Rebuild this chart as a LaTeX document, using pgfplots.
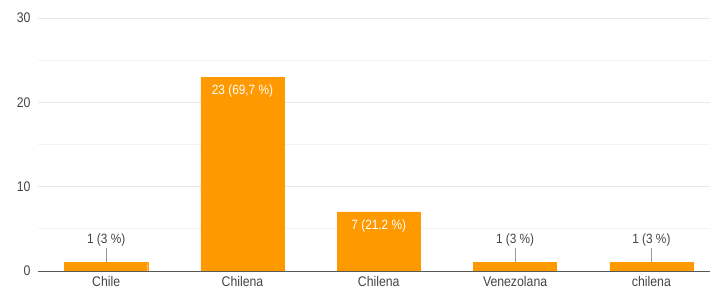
\documentclass[border=0pt]{standalone}
\usepackage{pgfplots}
\pgfplotsset{compat=1.18}
\usepackage{fontspec}
\setmainfont{Liberation Sans}[FakeStretch=0.88]
\definecolor{barc}{HTML}{FF9900}
\definecolor{txt}{HTML}{444444}
\definecolor{gridc}{HTML}{E8E8E8}
\definecolor{mgridc}{HTML}{F3F3F3}
\begin{document}
\begin{tikzpicture}[x=1bp,y=1bp]
\begin{axis}[
  at={(0,0)}, anchor=south west,
  scale only axis, width=672bp, height=253bp,
  xmin=-0.5, xmax=4.43, ymin=0, ymax=30,
  axis line style={draw=none},
  xtick={0,1,2,3,4},
  xticklabels={Chile,Chilena,Chilena,Venezolana,chilena},
  ytick={0,10,20,30}, minor ytick={5,15,25},
  ymajorgrids, yminorgrids,
  major grid style={gridc, line width=0.8bp},
  minor grid style={mgridc, line width=0.8bp},
  major tick length=0pt, minor tick length=0pt,
  tick style={draw=none},
  /pgf/number format/assume math mode=true,
  ticklabel style={font=\fontsize{14}{16}\selectfont, text=txt},
  yticklabel style={xshift=-4bp},
  xticklabel style={yshift=-2bp},
  ybar, bar width=0.61,
  clip=false,
]
\addplot[fill=barc, draw=barc, line width=0.4bp] coordinates {(0,1) (1,23) (2,7) (3,1) (4,1)};
\draw[color=gray!70!black, line width=1bp] (axis cs:-0.5,0) -- (axis cs:4.43,0);
\pgfplotsinvokeforeach{0,3,4}{
  \draw[gray!80, line width=0.8bp] (axis cs:#1,1.1) -- (axis cs:#1,2.75);
  \node[font=\fontsize{13.5}{16}\selectfont, text=txt, anchor=base] at (axis cs:#1,3.3) {1 (3 \%)};
}
\node[font=\fontsize{13.5}{16}\selectfont, text=white, anchor=base] at (axis cs:1,20.95) {23 (69,7 \%)};
\node[font=\fontsize{13.5}{16}\selectfont, text=white, anchor=base] at (axis cs:2,4.95) {7 (21,2 \%)};
\end{axis}
\pgfresetboundingbox
\path[use as bounding box] (-38bp,-28bp) rectangle (673bp,271bp);
\end{tikzpicture}
\end{document}
